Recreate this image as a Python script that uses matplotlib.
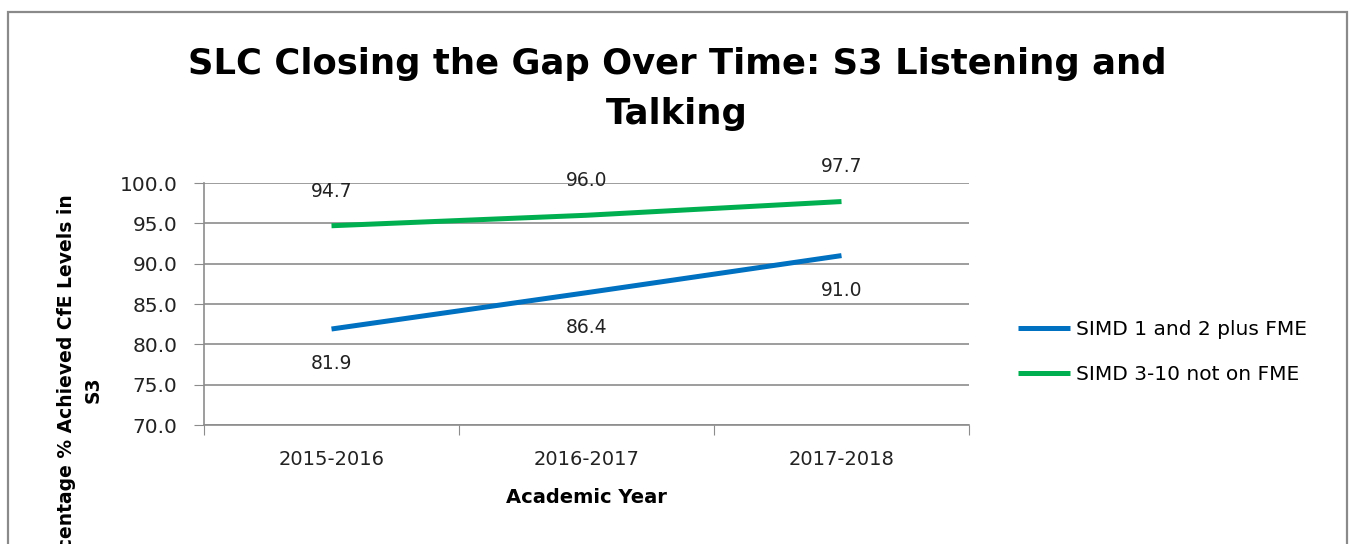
import matplotlib
matplotlib.use("Agg")
import matplotlib.pyplot as plt
from matplotlib.patches import Rectangle

# Values
years = ["2015-2016", "2016-2017", "2017-2018"]
simd_1_2_fme = [81.9, 86.4, 91.0]
simd_3_10_not_fme = [94.7, 96.0, 97.7]
series_names = ["SIMD 1 and 2 plus FME", "SIMD 3-10 not on FME"]
y_ticks = [70, 75, 80, 85, 90, 95, 100]

BLUE = "#0070C0"
GREEN = "#00B050"
GRID = "#8c8c8c"

W, H = 1351, 544
fig = plt.figure(figsize=(W / 100, H / 100), dpi=100)
plt.rcParams["font.family"] = ["DejaVu Sans"]

# outer chart border (runs off the bottom of the picture like the screenshot)
fig.patches.append(Rectangle((8 / W, -0.2), 1339 / W, 1 - 12 / H + 0.2,
                             transform=fig.transFigure, fill=False,
                             edgecolor="#8a8a8a", linewidth=1.6))

ax = fig.add_axes([204 / W, 1 - 425 / H, (969 - 204) / W, (425 - 183) / H])

x = list(range(len(years)))
ax.plot(x, simd_1_2_fme, color=BLUE, linewidth=3.6, solid_capstyle="butt", label=series_names[0])
ax.plot(x, simd_3_10_not_fme, color=GREEN, linewidth=3.6, solid_capstyle="butt", label=series_names[1])

for xi, v in zip(x, simd_1_2_fme):
    ax.annotate(f"{v:.1f}", (xi, v), xytext=(0, -25), textcoords="offset points",
                ha="center", va="center", fontsize=13.5, color="#222222")
for xi, v in zip(x, simd_3_10_not_fme):
    ax.annotate(f"{v:.1f}", (xi, v), xytext=(0, 25), textcoords="offset points",
                ha="center", va="center", fontsize=13.5, color="#222222")

ax.set_xlim(-0.5, 2.5)
ax.set_ylim(70, 100)
ax.set_yticks(y_ticks)
ax.set_yticklabels([f"{t:.1f}" for t in y_ticks], fontsize=14.5, color="#222222")
ax.set_xticks([-0.5, 0.5, 1.5, 2.5])
ax.set_xticklabels([])
ax.set_xticks(x, minor=True)
ax.set_xticklabels(years, minor=True, fontsize=14, color="#222222")
ax.tick_params(axis="x", which="minor", length=0, pad=18)
ax.tick_params(axis="x", which="major", length=7, color=GRID, direction="out")
ax.tick_params(axis="y", length=7, color=GRID, direction="out", pad=12)

ax.grid(axis="y", color=GRID, linewidth=1.2)
ax.set_axisbelow(True)
for s in ["top", "right"]:
    ax.spines[s].set_visible(False)
for s in ["left", "bottom"]:
    ax.spines[s].set_color(GRID)
    ax.spines[s].set_linewidth(1.2)

ax.set_xlabel("Academic Year", fontsize=14, fontweight="bold", labelpad=14)

fig.text(80 / W, 1 - 390 / H, "Percentage % Achieved CfE Levels in\nS3",
         rotation=90, ha="center", va="center", multialignment="center",
         fontsize=13.5, fontweight="bold", linespacing=1.55)

fig.text(677 / W, 1 - 89 / H, "SLC Closing the Gap Over Time: S3 Listening and\nTalking",
         ha="center", va="center", multialignment="center",
         fontsize=25.5, fontweight="bold", linespacing=1.62)

fig.legend(loc="center left", bbox_to_anchor=(1000 / W, 1 - 352 / H), frameon=False,
           fontsize=14.5, handlelength=2.6, handletextpad=0.25, labelspacing=1.3)

fig.savefig("out.png", dpi=100)
